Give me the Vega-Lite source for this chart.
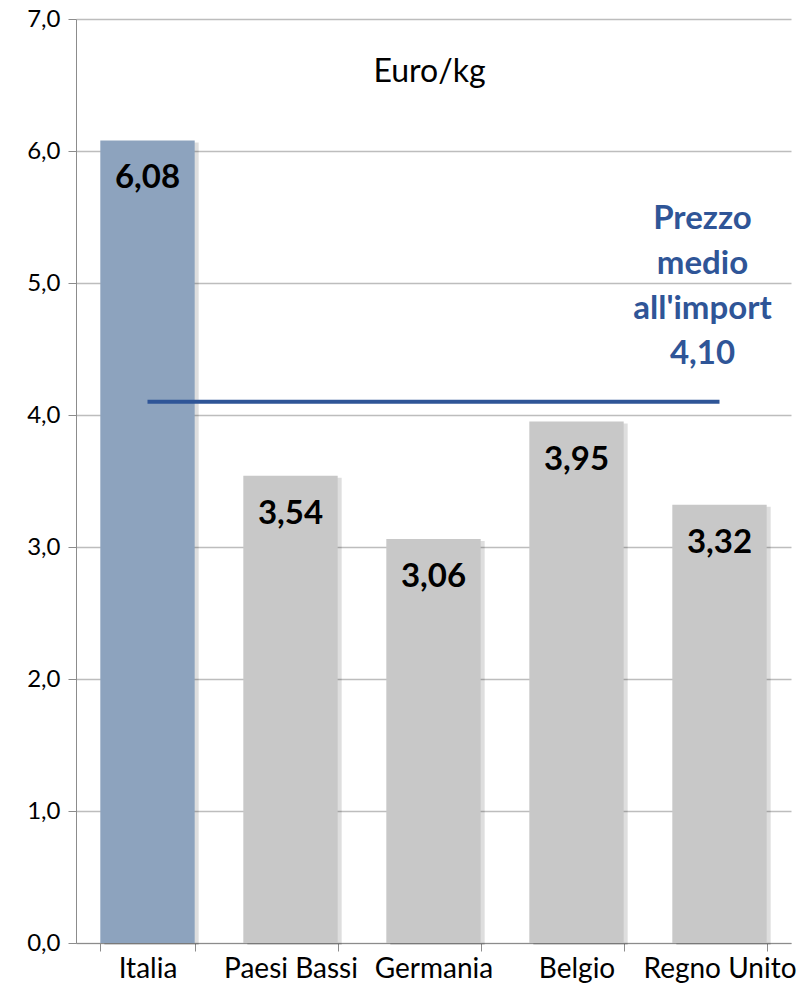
{
  "$schema": "https://vega.github.io/schema/vega-lite/v6.json",
  "width": 715,
  "height": 924,
  "autosize": {"type": "none"},
  "padding": {"left": 76, "top": 19, "right": 13, "bottom": 47},
  "background": "white",
  "config": {
    "view": {"stroke": null},
    "font": "Lato"
  },
  "datasets": {
    "bars": [
      {"paese": "Italia", "prezzo": 6.08, "etichetta": "6,08"},
      {"paese": "Paesi Bassi", "prezzo": 3.54, "etichetta": "3,54"},
      {"paese": "Germania", "prezzo": 3.06, "etichetta": "3,06"},
      {"paese": "Belgio", "prezzo": 3.95, "etichetta": "3,95"},
      {"paese": "Regno Unito", "prezzo": 3.32, "etichetta": "3,32"}
    ],
    "media": [
      {"da": "Italia", "a": "Regno Unito", "prezzo": 4.1, "label": ["Prezzo", "medio", "all'import", "4,10"]}
    ]
  },
  "encoding": {
    "x": {
      "field": "paese",
      "type": "nominal",
      "sort": null,
      "scale": {"domain": ["Italia", "Paesi Bassi", "Germania", "Belgio", "Regno Unito"], "paddingInner": 0.34, "paddingOuter": 0.17},
      "axis": {
        "title": null,
        "labelAngle": 0,
        "labelFont": "Lato",
        "labelFontSize": 28,
        "labelColor": "#000000",
        "labelPadding": 4,
        "domainColor": "#8c8c8c",
        "tickColor": "#8c8c8c",
        "tickBand": "extent",
        "tickSize": 8,
        "labelOverlap": false
      }
    }
  },
  "layer": [
    {
      "data": {"name": "bars"},
      "mark": {"type": "bar", "color": "#000000", "opacity": 0.13, "xOffset": 4, "yOffset": 2},
      "encoding": {
        "y": {
          "field": "prezzo",
          "type": "quantitative",
          "scale": {"domain": [0, 7]},
          "axis": {
            "title": null,
            "values": [0, 1, 2, 3, 4, 5, 6, 7],
            "labelExpr": "replace(format(datum.value, '.1f'), '.', ',')",
            "labelFont": "Lato",
            "labelFontSize": 24,
            "labelColor": "#000000",
            "labelPadding": 8,
            "domainColor": "#8c8c8c",
            "tickColor": "#8c8c8c",
            "tickSize": 8,
            "gridColor": "#bdbdbd",
            "gridWidth": 1.3
          }
        }
      }
    },
    {
      "data": {"name": "bars"},
      "mark": {"type": "bar"},
      "encoding": {
        "y": {"field": "prezzo", "type": "quantitative"},
        "color": {
          "field": "paese",
          "type": "nominal",
          "scale": {"domain": ["Italia", "Paesi Bassi", "Germania", "Belgio", "Regno Unito"], "range": ["#8da3be", "#c8c8c8", "#c8c8c8", "#c8c8c8", "#c8c8c8"]},
          "legend": null
        }
      }
    },
    {
      "data": {"name": "bars"},
      "mark": {"type": "text", "font": "Lato", "fontSize": 33, "fontWeight": "bold", "color": "#000000", "baseline": "middle", "dy": 38},
      "encoding": {
        "y": {"field": "prezzo", "type": "quantitative"},
        "text": {"field": "etichetta"}
      }
    },
    {
      "data": {"name": "media"},
      "mark": {"type": "rule", "color": "#2f5597", "strokeWidth": 4},
      "encoding": {
        "x": {"field": "da", "type": "nominal"},
        "x2": {"field": "a"},
        "y": {"field": "prezzo", "type": "quantitative"}
      }
    },
    {
      "data": {"name": "media"},
      "mark": {"type": "text", "font": "Lato", "fontSize": 33, "fontWeight": "bold", "color": "#2f5597", "baseline": "middle", "align": "center", "lineHeight": 45, "dx": -17, "dy": -183},
      "encoding": {
        "x": {"field": "a", "type": "nominal"},
        "y": {"field": "prezzo", "type": "quantitative"},
        "text": {"field": "label"}
      }
    },
    {
      "data": {"values": [{"nota": "Euro/kg"}]},
      "mark": {"type": "text", "font": "Lato", "fontSize": 32, "color": "#000000", "baseline": "middle", "align": "center", "dx": -4},
      "encoding": {
        "x": {"datum": "Germania"},
        "y": {"datum": 6.6},
        "text": {"field": "nota"}
      }
    }
  ]
}
